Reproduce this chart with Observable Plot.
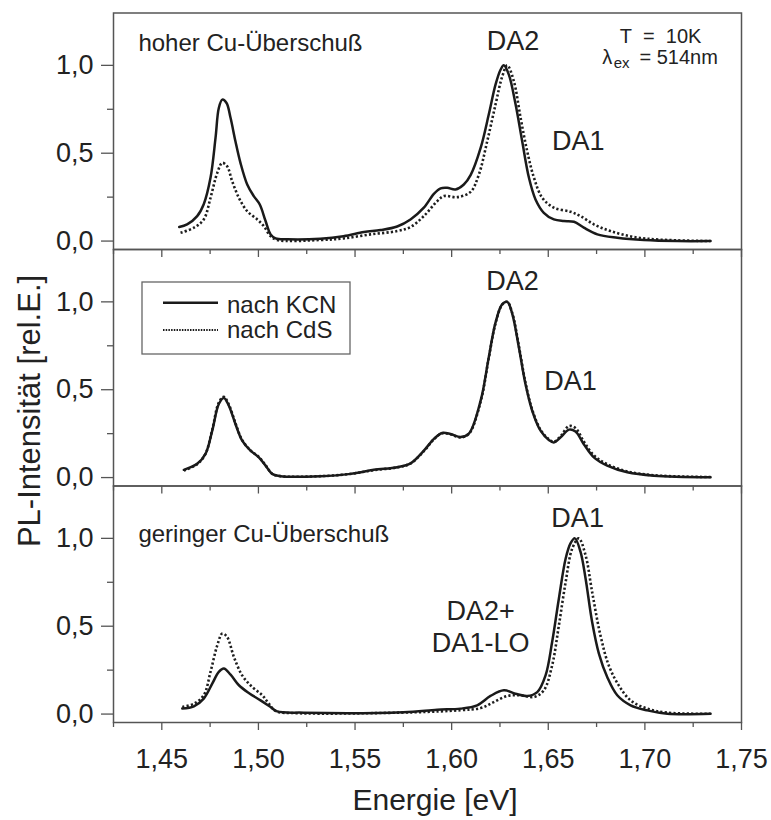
<!DOCTYPE html>
<html><head><meta charset="utf-8">
<script src="https://cdn.jsdelivr.net/npm/d3@7"></script>
<script src="https://cdn.jsdelivr.net/npm/@observablehq/plot@0.6"></script>
<style>
body{margin:0;background:#fff;}
#chart{position:relative;width:771px;height:820px;font-family:"Liberation Sans",Arial,Helvetica,sans-serif;color:#222;}
#chart svg{position:absolute;left:0;top:0;}
</style></head><body><div id="chart"></div>
<script>
// ---- ticks ----
const xTicksMajor = [1.45, 1.50, 1.55, 1.60, 1.65, 1.70, 1.75];
const xTickLabels = ["1,45", "1,50", "1,55", "1,60", "1,65", "1,70", "1,75"];
const xTicksMinor = [1.425, 1.475, 1.525, 1.575, 1.625, 1.675, 1.725];
const yTicksMajor = [0, 0.5, 1.0];
const yTickLabels = ["0,0", "0,5", "1,0"];
const yTicksMinor = [0.25, 0.75];

// ---- panel 1: hoher Cu-Überschuß ----
const p1KcnX = [1.4590,1.4631,1.4683,1.4717,1.4752,1.4778,1.4795,1.4813,1.4835,1.4856,1.4881,1.4907,1.4942,1.4976,1.5007,1.5037,1.5063,1.5089,1.515,1.532,1.544,1.5546,1.5632,1.5718,1.5787,1.5856,1.5908,1.5943,1.5977,1.602,1.6063,1.6098,1.615,1.6192,1.6227,1.6253,1.627,1.6296,1.6331,1.6365,1.64,1.6434,1.6477,1.6529,1.6581,1.6633,1.6684,1.6754,1.6857,1.6995,1.7168,1.734];
const p1KcnY = [0.08,0.095,0.142,0.21,0.36,0.587,0.757,0.805,0.786,0.70,0.568,0.445,0.322,0.256,0.208,0.114,0.038,0.015,0.01,0.013,0.027,0.051,0.0625,0.083,0.123,0.19,0.269,0.30,0.303,0.294,0.322,0.375,0.53,0.72,0.89,0.975,1.0,0.947,0.777,0.568,0.36,0.237,0.161,0.123,0.114,0.11,0.076,0.038,0.019,0.006,0.0,0.0];
const p1CdsX = [1.4597,1.4666,1.4717,1.4752,1.4787,1.4813,1.4838,1.4864,1.4899,1.4942,1.4994,1.5028,1.5063,1.5097,1.532,1.544,1.558,1.5718,1.5787,1.5856,1.5925,1.596,1.6029,1.6098,1.6141,1.6184,1.6227,1.6262,1.6288,1.6322,1.6357,1.6391,1.6426,1.6469,1.6529,1.6615,1.6667,1.6736,1.6822,1.6943,1.7083,1.734];
const p1CdsY = [0.047,0.076,0.123,0.246,0.388,0.445,0.426,0.341,0.246,0.17,0.123,0.085,0.028,0.006,0.006,0.015,0.038,0.057,0.08,0.142,0.227,0.256,0.25,0.28,0.379,0.568,0.777,0.9375,1.0,0.909,0.70,0.511,0.36,0.246,0.19,0.167,0.142,0.095,0.057,0.023,0.008,0.0];

// ---- panel 2 ----
const p2KcnX = [1.4614,1.4683,1.4726,1.4761,1.4795,1.4821,1.4847,1.4881,1.4916,1.4959,1.5002,1.5037,1.5071,1.5114,1.5321,1.5477,1.5597,1.5718,1.5787,1.5856,1.5908,1.5951,1.5994,1.6046,1.6089,1.615,1.6192,1.6227,1.6262,1.6288,1.6314,1.6348,1.6382,1.6417,1.646,1.6503,1.6529,1.6564,1.6607,1.6641,1.6684,1.6736,1.6805,1.6909,1.7047,1.734];
const p2KcnY = [0.044,0.078,0.135,0.267,0.419,0.453,0.409,0.305,0.21,0.153,0.115,0.068,0.021,0.008,0.008,0.021,0.044,0.059,0.081,0.153,0.22,0.254,0.248,0.231,0.25,0.4375,0.684,0.882,0.987,1.0,0.93,0.74,0.532,0.38,0.267,0.214,0.2,0.229,0.273,0.262,0.19,0.115,0.068,0.03,0.011,0.002];
const p2CdsX = [1.4614,1.4683,1.4726,1.4761,1.4795,1.4821,1.4847,1.4881,1.4916,1.4959,1.5002,1.5037,1.5071,1.5114,1.5321,1.5477,1.5597,1.5718,1.5787,1.5856,1.5908,1.5951,1.5994,1.6046,1.6089,1.615,1.6192,1.6227,1.6262,1.6288,1.6314,1.6348,1.6382,1.6417,1.646,1.6503,1.6529,1.6564,1.6607,1.6641,1.6684,1.6736,1.6805,1.6909,1.7047,1.734];
const p2CdsY = [0.040,0.076,0.135,0.272,0.427,0.460,0.415,0.310,0.213,0.155,0.117,0.070,0.022,0.008,0.008,0.021,0.042,0.058,0.080,0.150,0.218,0.252,0.246,0.229,0.248,0.432,0.680,0.878,0.985,1.0,0.935,0.748,0.540,0.386,0.272,0.218,0.204,0.236,0.293,0.282,0.205,0.127,0.076,0.035,0.013,0.003];

// ---- panel 3: geringer Cu-Überschuß ----
const p3KcnX = [1.4606,1.4666,1.4717,1.4761,1.4795,1.4821,1.4856,1.4899,1.495,1.5011,1.5063,1.5097,1.5235,1.575,1.5925,1.6046,1.6132,1.6201,1.627,1.633,1.6391,1.6443,1.6486,1.652,1.6555,1.659,1.6615,1.6638,1.6667,1.6693,1.6727,1.6762,1.6805,1.6857,1.6926,1.7012,1.7116,1.734];
const p3KcnY = [0.031,0.044,0.088,0.173,0.24,0.259,0.224,0.164,0.12,0.078,0.04,0.015,0.008,0.011,0.025,0.031,0.05,0.103,0.135,0.116,0.103,0.125,0.22,0.41,0.658,0.885,0.971,1.0,0.923,0.772,0.524,0.344,0.211,0.107,0.05,0.021,0.002,0.002];
const p3CdsX = [1.4606,1.4666,1.4717,1.4752,1.4787,1.4813,1.4838,1.4873,1.4916,1.4968,1.502,1.5054,1.5089,1.52,1.58,1.6046,1.615,1.6218,1.6288,1.6357,1.6426,1.6477,1.652,1.6555,1.659,1.6624,1.6658,1.6693,1.6727,1.677,1.6813,1.6865,1.6926,1.7012,1.7116,1.734];
const p3CdsY = [0.04,0.059,0.107,0.24,0.391,0.458,0.439,0.325,0.22,0.154,0.107,0.059,0.017,0.005,0.01,0.022,0.034,0.068,0.103,0.107,0.097,0.135,0.277,0.505,0.752,0.942,1.0,0.904,0.695,0.448,0.277,0.163,0.078,0.031,0.008,0.002];

// ---- annotations (data coordinates) ----
const p1Notes = [
  {x: 1.4379, y: 1.079, text: "hoher Cu-Überschuß", size: 24, anchor: "start"},
  {x: 1.6318, y: 1.085, text: "DA2", size: 27, anchor: "middle"},
  {x: 1.6655, y: 0.516, text: "DA1", size: 27, anchor: "middle"},
  {x: 1.7081, y: 1.125, text: "T\u00a0\u00a0=\u00a0\u00a010K", size: 20, anchor: "middle"},
  {x: 1.6779, y: 1.008, text: "λ", size: 20, anchor: "start"},
  {x: 1.6839, y: 0.985, text: "ex", size: 15, anchor: "start"},
  {x: 1.6972, y: 1.008, text: "= 514nm", size: 20, anchor: "start"}
];
const p2Notes = [
  {x: 1.6315, y: 1.069, text: "DA2", size: 27, anchor: "middle"},
  {x: 1.6615, y: 0.496, text: "DA1", size: 27, anchor: "middle"}
];
const p3Notes = [
  {x: 1.4379, y: 0.978, text: "geringer Cu-Überschuß", size: 24, anchor: "start"},
  {x: 1.6652, y: 1.065, text: "DA1", size: 27, anchor: "middle"},
  {x: 1.615, y: 0.537, text: "DA2+", size: 27, anchor: "middle"},
  {x: 1.615, y: 0.352, text: "DA1-LO", size: 27, anchor: "middle"}
];
const seriesNames = ["nach KCN", "nach CdS"];
const xTitle = "Energie [eV]";
const yTitle = "PL-Intensität [rel.E.]";

const W = 771, H = 820;
const FONT = '"Liberation Sans", Arial, Helvetica, sans-serif';
const xLab = new Map(xTicksMajor.map((v, i) => [v, xTickLabels[i]]));
const yLab = new Map(yTicksMajor.map((v, i) => [v, yTickLabels[i]]));
const toRows = (xs, ys) => xs.map((x, i) => ({x, y: ys[i]}));

function panel({top, bottom, kcn, cds, notes, xLabels}) {
  return Plot.plot({
    width: W, height: H,
    marginLeft: 113, marginRight: 30, marginTop: top, marginBottom: H - bottom,
    x: {domain: [1.425, 1.75]},
    y: {domain: [-0.048, 1.298]},
    style: {background: "transparent", overflow: "visible", fontFamily: FONT, color: "#222"},
    marks: [
      Plot.axisX(xTicksMajor, {anchor: "bottom", tickSize: 8, tickPadding: 18, stroke: "#555", strokeWidth: 1.3, fill: "#222",
        fontSize: 27, tickFormat: d => xLabels ? xLab.get(d) : "", label: null}),
      Plot.axisX(xTicksMinor, {anchor: "bottom", tickSize: 5, stroke: "#555", strokeWidth: 1.3, tickFormat: () => "", label: null}),
      Plot.axisY(yTicksMajor, {anchor: "left", tickSize: 12, tickPadding: 8, stroke: "#555", strokeWidth: 1.3, fill: "#222",
        fontSize: 27, tickFormat: d => yLab.get(d), label: null}),
      Plot.axisY(yTicksMinor, {anchor: "left", tickSize: 6, stroke: "#555", strokeWidth: 1.3, tickFormat: () => "", label: null}),
      Plot.line(cds, {x: "x", y: "y", curve: "catmull-rom", stroke: "#1e1e1e", strokeWidth: 2.6,
        strokeDasharray: "2.2,2.2", strokeLinecap: "butt", strokeLinejoin: "miter"}),
      Plot.line(kcn, {x: "x", y: "y", curve: "catmull-rom", stroke: "#1a1a1a", strokeWidth: 2.5}),
      ...notes.map(n => Plot.text([n], {x: "x", y: "y", text: "text", fontSize: n.size, textAnchor: n.anchor,
        lineAnchor: "bottom", fill: "#222"})),
      Plot.frame({stroke: "#555", strokeWidth: 1.5})
    ]
  });
}

const chart = document.getElementById("chart");
chart.append(panel({top: 12.5, bottom: 249, kcn: toRows(p1KcnX, p1KcnY), cds: toRows(p1CdsX, p1CdsY), notes: p1Notes, xLabels: false}));
chart.append(panel({top: 249, bottom: 485.5, kcn: toRows(p2KcnX, p2KcnY), cds: toRows(p2CdsX, p2CdsY), notes: p2Notes, xLabels: false}));
chart.append(panel({top: 485.5, bottom: 722, kcn: toRows(p3KcnX, p3KcnY), cds: toRows(p3CdsX, p3CdsY), notes: p3Notes, xLabels: true}));

// overlay: axis titles and legend
const ov = d3.select(chart).append("svg").attr("width", W).attr("height", H)
  .style("font-family", FONT).style("pointer-events", "none");
ov.append("text").attr("transform", "translate(40,411) rotate(-90)").attr("text-anchor", "middle")
  .attr("font-size", 31).attr("fill", "#222").text(yTitle);
ov.append("text").attr("x", 435).attr("y", 810).attr("text-anchor", "middle")
  .attr("font-size", 30).attr("fill", "#222").text(xTitle);
const lg = ov.append("g").attr("transform", "translate(142,282)");
lg.append("rect").attr("width", 208).attr("height", 72).attr("fill", "white").attr("stroke", "#666").attr("stroke-width", 1.3);
lg.append("line").attr("x1", 21).attr("x2", 76).attr("y1", 20.7).attr("y2", 20.7).attr("stroke", "#1a1a1a").attr("stroke-width", 2.6);
lg.append("line").attr("x1", 21).attr("x2", 76).attr("y1", 48).attr("y2", 48).attr("stroke", "#1a1a1a").attr("stroke-width", 2).attr("stroke-dasharray", "1.5,1.2");
lg.append("text").attr("x", 85).attr("y", 31.3).attr("font-size", 24).attr("fill", "#222").text(seriesNames[0]);
lg.append("text").attr("x", 85).attr("y", 56.3).attr("font-size", 24).attr("fill", "#222").text(seriesNames[1]);
</script></body></html>
